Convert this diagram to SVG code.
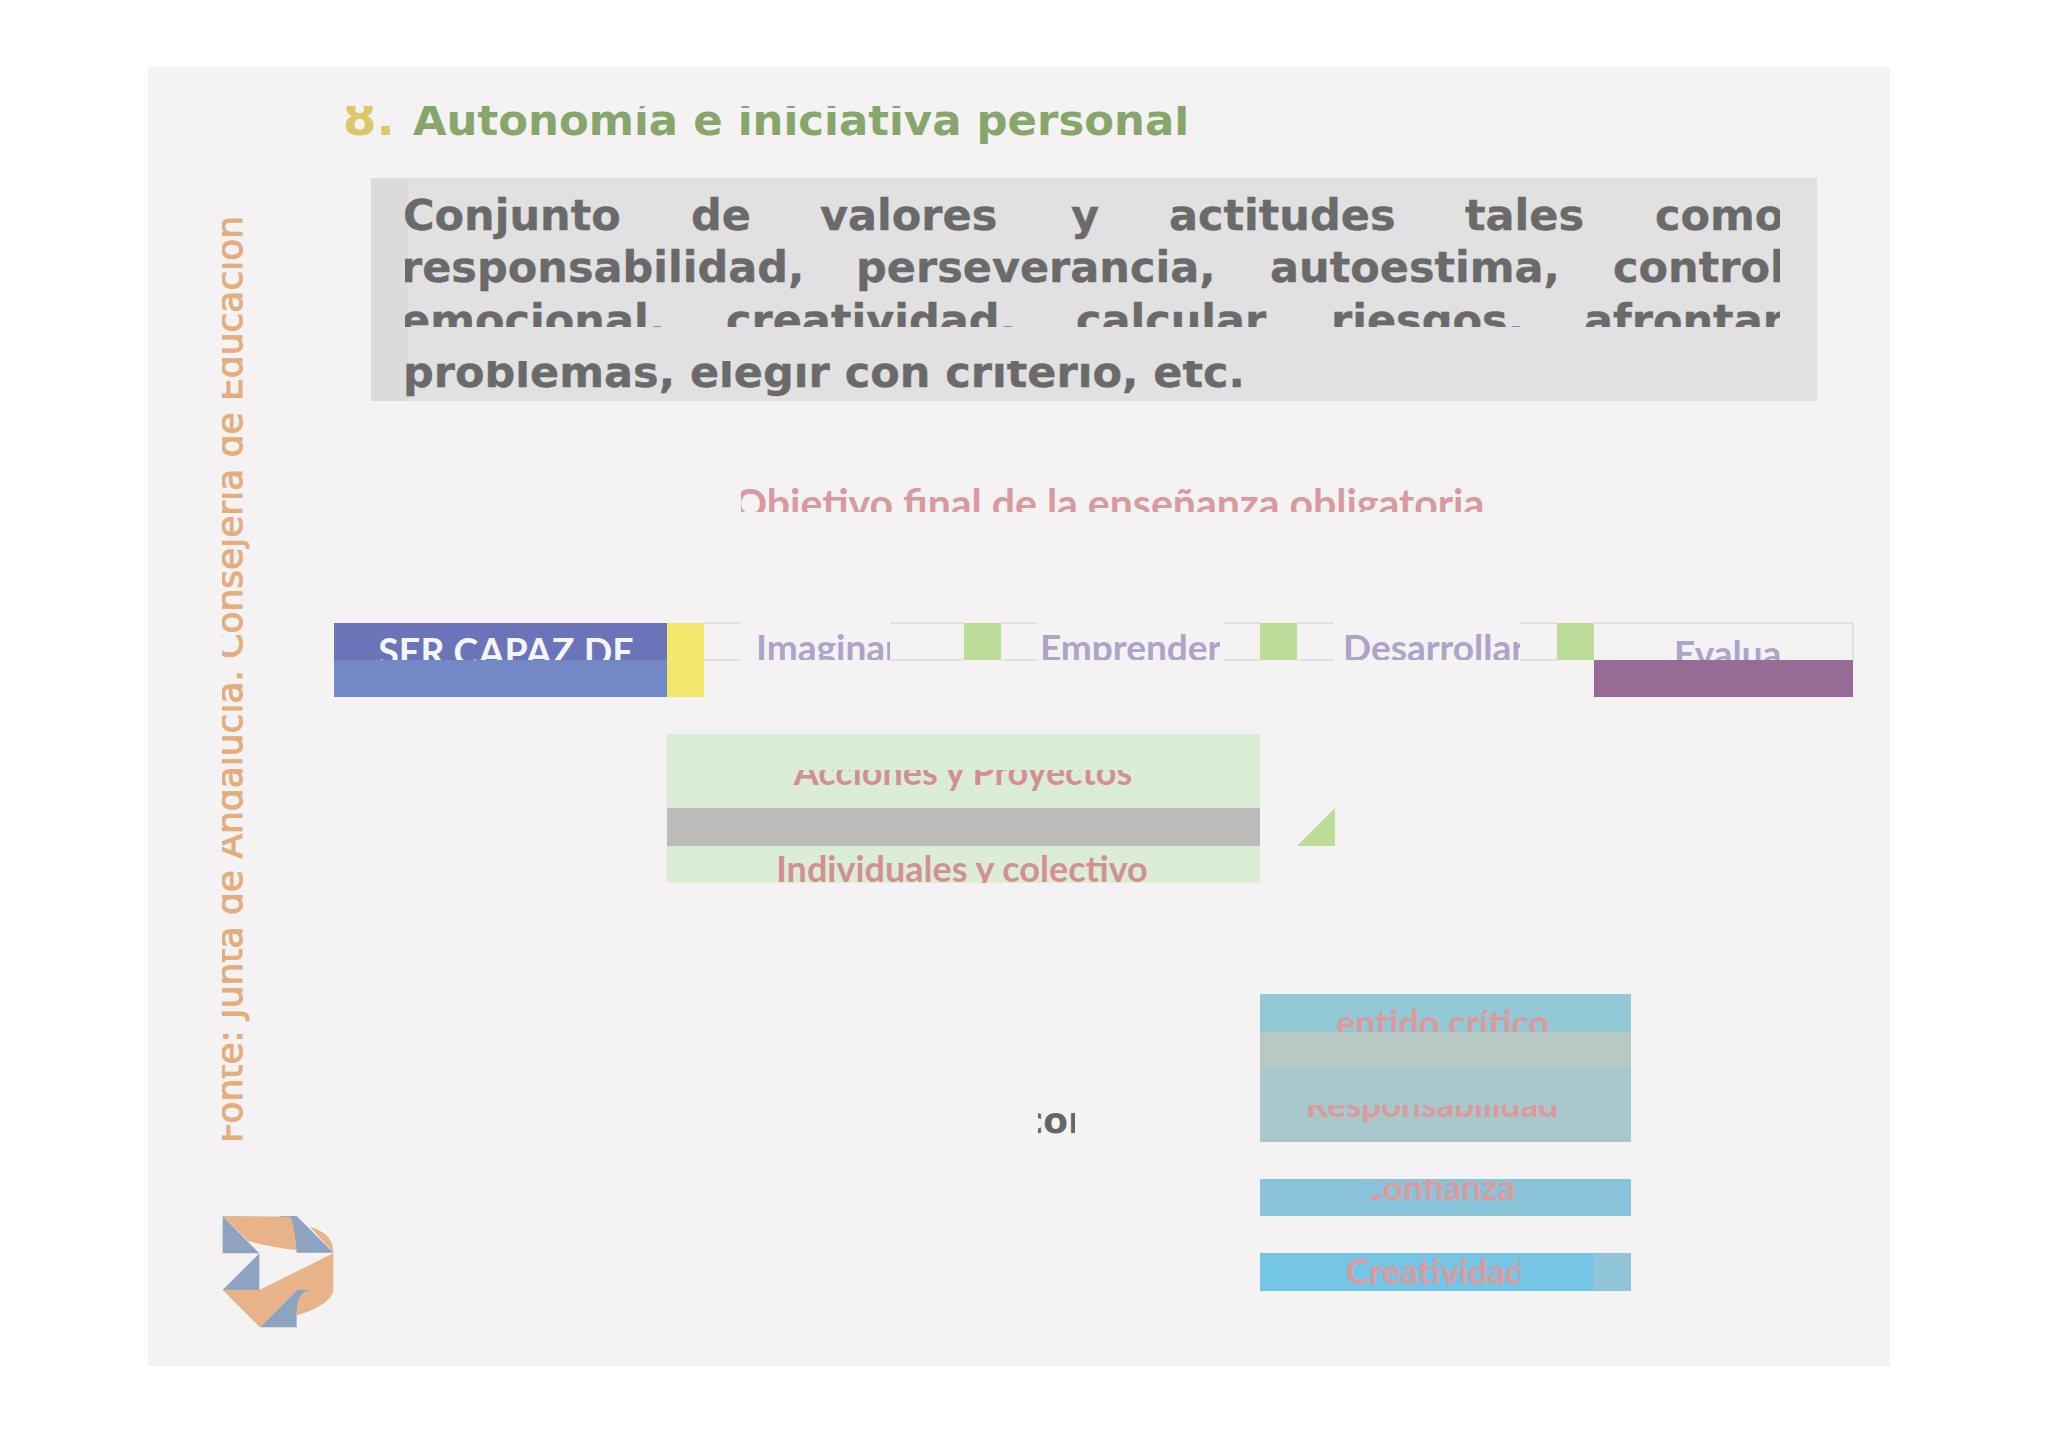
<svg xmlns="http://www.w3.org/2000/svg" width="2048" height="1448" viewBox="0 0 2048 1448">
<style>
.v{font-family:"DejaVu Sans",Verdana,sans-serif;font-weight:700}
.c{font-family:Lato,"Noto Sans",sans-serif;font-weight:700}
.b{font-size:43px;fill:#6b6a6b;stroke:#6b6a6b;stroke-width:.4}
.p{fill:#d39094;font-size:36px}
.q{fill:#dd9a9c;font-size:36px}
.l{fill:#aca4c9;font-size:37px}
.t{fill:none;stroke:#dcdcdc;stroke-width:1.5}
.g{fill:#bbdd98}
</style>
<defs>
<clipPath id="c1"><rect x="405" y="178" width="1375" height="149"/></clipPath>
<clipPath id="c2"><rect x="405" y="361" width="1000" height="40"/></clipPath>
<clipPath id="c3"><rect x="741" y="470" width="743" height="42"/></clipPath>
<clipPath id="c4"><rect x="334" y="623" width="333" height="37"/></clipPath>
<clipPath id="c5"><rect x="757" y="623" width="133" height="37"/></clipPath>
<clipPath id="c6"><rect x="1042" y="623" width="178" height="37"/></clipPath>
<clipPath id="c7"><rect x="1345" y="623" width="175" height="37"/></clipPath>
<clipPath id="c8"><rect x="1594" y="623" width="259" height="37"/></clipPath>
<clipPath id="c9"><rect x="667" y="770" width="593" height="38"/></clipPath>
<clipPath id="c10"><rect x="778" y="846" width="482" height="37"/></clipPath>
<clipPath id="c11"><rect x="1260" y="994" width="371" height="38"/></clipPath>
<clipPath id="c12"><rect x="1260" y="1105" width="371" height="37"/></clipPath>
<clipPath id="c13"><rect x="1371" y="1179" width="260" height="37"/></clipPath>
<clipPath id="c14"><rect x="1260" y="1253" width="260" height="38"/></clipPath>
<clipPath id="c15"><rect x="1038" y="1095" width="37" height="50"/></clipPath>
<clipPath id="c16"><rect x="222" y="213" width="30" height="930"/></clipPath>
<clipPath id="c17"><rect x="330" y="106" width="900" height="50"/></clipPath>
</defs>
<rect width="2048" height="1448" fill="#fff"/>
<rect x="148" y="67" width="1742" height="1299" fill="#f4f2f2"/>

<g id="title" clip-path="url(#c17)">
<text class="v" x="343" y="135" font-size="48" fill="#dcc76a">8.</text>
<text class="v" x="413" y="135" font-size="43.4" fill="#86a66b">Autonomía e iniciativa personal</text>
</g>

<g id="definition">
<rect x="371" y="178" width="1446" height="223" fill="#e2e1e2"/>
<rect x="371" y="178" width="37" height="223" fill="#dbdbdb"/>
<g clip-path="url(#c1)" class="v b">
<text x="403" y="230">Conjunto</text><text x="691" y="230">de</text><text x="820" y="230">valores</text><text x="1071" y="230">y</text><text x="1169" y="230">actitudes</text><text x="1465" y="230">tales</text><text x="1655" y="230">como</text>
<text x="401" y="282">responsabilidad,</text><text x="856" y="282">perseverancia,</text><text x="1270" y="282">autoestima,</text><text x="1613" y="282">control</text>
<text x="401" y="335">emocional,</text><text x="726" y="335">creatividad,</text><text x="1076" y="335">calcular</text><text x="1331" y="335">riesgos,</text><text x="1584" y="335">afrontar</text>
</g>
<text clip-path="url(#c2)" class="v b" x="403" y="387">problemas, elegir con criterio, etc.</text>
</g>

<g id="objetivo"><text clip-path="url(#c3)" class="c" x="734" y="518" font-size="41" fill="#d79a9f">Objetivo final de la enseñanza obligatoria</text></g>

<g id="ser-capaz">
<rect x="334" y="623" width="333" height="37" fill="#6b74b8"/>
<rect x="334" y="660" width="333" height="37" fill="#7389c6"/>
<text clip-path="url(#c4)" class="c" x="506" y="666" font-size="37.5" fill="#f4f6fa" text-anchor="middle">SER CAPAZ DE</text>
<rect x="667" y="623" width="37" height="74" fill="#f3e86e"/>
</g>
<g id="imaginar">
<path class="t" d="M704 623H740M890 623H963M704 660H740M890 660H963"/>
<text clip-path="url(#c5)" class="c l" x="756" y="661">Imaginar</text>
<rect class="g" x="964" y="623" width="37" height="37"/>
</g>
<g id="emprender">
<path class="t" d="M1001 623H1037M1224 623H1260M1001 660H1037M1224 660H1260"/>
<text clip-path="url(#c6)" class="c l" x="1040" y="661">Emprender</text>
<rect class="g" x="1260" y="623" width="37" height="37"/>
</g>
<g id="desarrollar">
<path class="t" d="M1297 623H1334M1520 623H1557M1297 660H1334M1520 660H1557"/>
<text clip-path="url(#c7)" class="c l" x="1343" y="661">Desarrollar</text>
<rect class="g" x="1557" y="623" width="37" height="37"/>
</g>
<g id="evaluar">
<path class="t" d="M1594 623H1853V660"/>
<text clip-path="url(#c8)" class="c l" x="1674" y="667">Evalua</text>
<rect x="1594" y="660" width="259" height="37" fill="#966b96"/>
</g>

<g id="acciones">
<rect x="667" y="734" width="593" height="149" fill="#dcedd6"/>
<rect x="667" y="808" width="593" height="38" fill="#bcbbba"/>
<text clip-path="url(#c9)" class="c p" x="963" y="785" text-anchor="middle">Acciones y Proyectos</text>
<text clip-path="url(#c10)" class="c p" x="962" y="882" text-anchor="middle">Individuales y colectivo</text>
</g>
<polygon id="triangle" class="g" points="1297,846 1335,808 1335,846"/>

<g id="con"><text clip-path="url(#c15)" class="v" x="1022" y="1133" font-size="36" fill="#666">con</text></g>

<g id="sentido">
<rect x="1260" y="994" width="371" height="38" fill="#93c9d6"/>
<rect x="1260" y="1032" width="371" height="36" fill="#b7c9c3"/>
<rect x="1260" y="1068" width="371" height="74" fill="#a8c8cc"/>
<text clip-path="url(#c11)" class="c q" x="1336" y="1036">entido crítico</text>
<text clip-path="url(#c12)" class="c q" x="1432" y="1117" text-anchor="middle" style="font-size:35px">Responsabilidad</text>
</g>
<g id="confianza">
<rect x="1260" y="1179" width="371" height="37" fill="#8ac4da"/>
<text clip-path="url(#c13)" class="c q" x="1515" y="1200" text-anchor="end" style="font-size:35px">Confianza</text>
</g>
<g id="creatividad">
<rect x="1260" y="1253" width="334" height="38" fill="#75c5e6"/>
<rect x="1594" y="1253" width="37" height="38" fill="#90c6d8"/>
<text clip-path="url(#c14)" class="c q" x="1346" y="1284" style="font-size:35px">Creatividad</text>
</g>

<g id="fuente" clip-path="url(#c16)">
<text class="v" transform="translate(242 1143) rotate(-90)" font-size="36" fill="#e4ad7c" style="font-weight:400;stroke:#e4ad7c;stroke-width:1">Fonte: Junta de Andalucía. Consejería de Educación</text>
</g>

<g id="logo" transform="translate(200 1180) scale(.3333)">
<path fill="#8ea3c0" d="M68 108V220H178ZM178 220V330H68ZM235 108H290L400 218H290C285 170 285 120 235 108ZM290 330H350C310 335 290 360 290 405V442H180Z"/>
<path fill="#e8b388" d="M68 108L270 110C285 130 285 190 290 210C240 205 190 195 145 183ZM330 140C380 155 400 180 400 218ZM68 330H178L400 220V330H290L180 442ZM290 405C340 395 400 360 400 330H330C300 335 290 360 290 405Z"/>
</g>
</svg>
